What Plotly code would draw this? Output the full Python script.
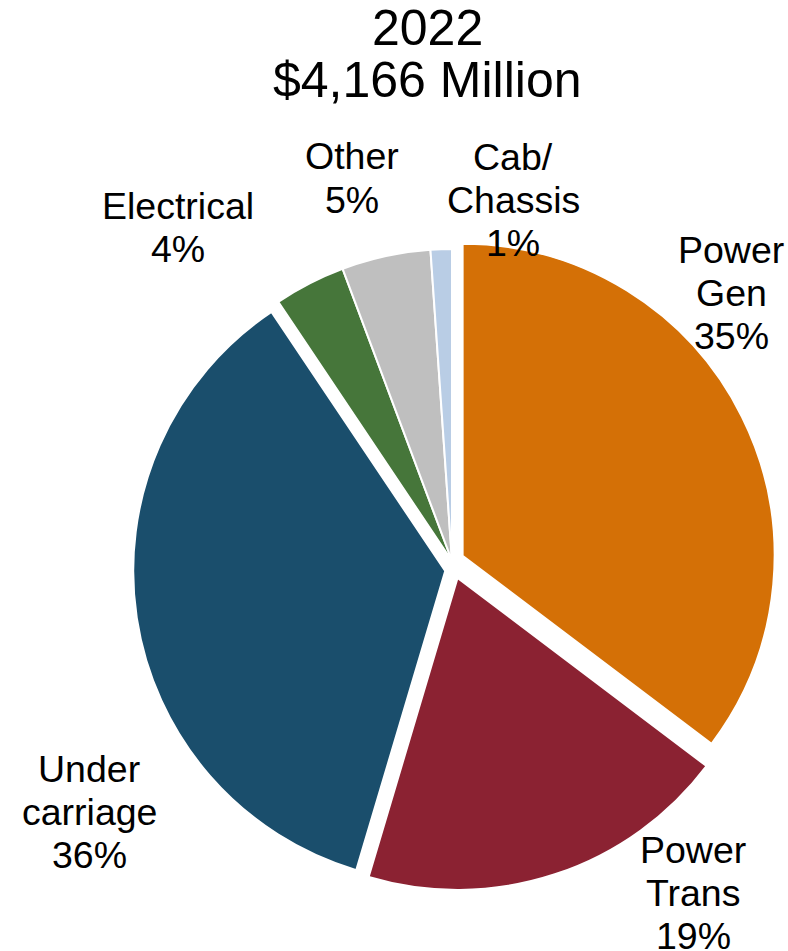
import plotly.graph_objects as go

# Data
categories = ["Power Gen", "Power Trans", "Under carriage", "Electrical", "Other", "Cab/Chassis"]
label_lines = [["Power", "Gen"], ["Power", "Trans"], ["Under", "carriage"], ["Electrical"], ["Other"], ["Cab/", "Chassis"]]
shares = [35.3, 19.3, 36.0, 3.7, 4.6, 1.1]
title_lines = ["2022", "$4,166 Million"]

# Styles / layout
colors = ["#D47006", "#8B2232", "#1A4E6C", "#46763A", "#BFBFBF", "#B9CDE5"]
pulls = [0.038, 0.057, 0.022, 0, 0, 0]
# the exploded "Under carriage" slice sits a little lower in the original
drop = [0, 0, 9, 0, 0, 0]
label_pos = [(731, 293), (693, 893), (89, 812), (178, 228), (352, 178), (513, 200)]
title_pos = [(427, 28), (427, 80)]
W, H = 788, 951
CX, CY, R = 452, 561, 312
LABEL_FONT, LABEL_STEP = 37.5, 43
TITLE_FONT = 50
FONT = "Liberation Sans, Arial, sans-serif"
CLEAR = "rgba(0,0,0,0)"

half = R * (1 + max(pulls))


def make_domain(dy):
    return dict(x=[(CX - half) / W, (CX + half) / W],
                y=[(H - CY - dy - half) / H, (H - CY - dy + half) / H])


fig = go.Figure()
for dy in sorted(set(drop)):
    sel = [d == dy for d in drop]
    fig.add_trace(go.Pie(
        labels=categories,
        values=shares,
        sort=False,
        direction="clockwise",
        rotation=0,
        pull=pulls,
        marker=dict(colors=[c if s else CLEAR for c, s in zip(colors, sel)],
                    line=dict(color="white", width=[2 if s else 0 for s in sel])),
        textinfo="none",
        hoverinfo="skip",
        showlegend=False,
        domain=make_domain(dy),
    ))


def add_line(text, px, py, size):
    fig.add_annotation(
        x=px / W, y=1 - py / H, xref="paper", yref="paper",
        text=text, showarrow=False, xanchor="center", yanchor="middle",
        font=dict(family=FONT, size=size, color="black"),
    )


for lines, v, (px, py) in zip(label_lines, shares, label_pos):
    all_lines = lines + [f"{round(v)}%"]
    n = len(all_lines)
    for k, t in enumerate(all_lines):
        add_line(t, px, py + (k - (n - 1) / 2) * LABEL_STEP, LABEL_FONT)

for t, (px, py) in zip(title_lines, title_pos):
    add_line(t, px, py, TITLE_FONT)

fig.update_layout(
    width=W, height=H,
    margin=dict(l=0, r=0, t=0, b=0),
    paper_bgcolor="white", plot_bgcolor="white",
)

fig.write_html(
    "out.html",
    config={"displayModeBar": False},
    post_script="document.body.style.margin='0';document.body.style.overflow='hidden';",
)
